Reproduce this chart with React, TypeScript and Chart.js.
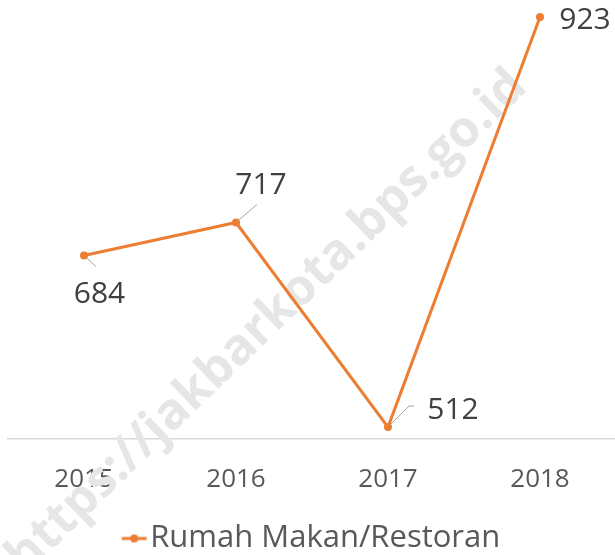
import React, { useEffect, useRef } from "react";
import { Chart, registerables } from "chart.js";

Chart.register(...registerables);

const categories = ["2015", "2016", "2017", "2018"];
const seriesName = "Rumah Makan/Restoran";
const seriesValues = [684, 717, 512, 923];
const watermarkText = "https://jakbarkota.bps.go.id";

const ORANGE = "#ED7D31";
const FONT = "'Open Sans', 'Noto Sans', sans-serif";

// label placement (style, relative to each point)
const labelOffsets = [
  [15.5, 36.5],
  [25, -39.5],
  [65, -19],
  [45, 1.5],
];
const leaderLines: number[][][] = [
  [[2, 2], [12, 11]],
  [[1, -1], [21, -18]],
  [[2, -2], [21, -21], [26, -21]],
  [],
];

function makeLegendMarker() {
  const c = document.createElement("canvas");
  c.width = 32;
  c.height = 10;
  const g = c.getContext("2d")!;
  g.strokeStyle = ORANGE;
  g.lineWidth = 3;
  g.beginPath();
  g.moveTo(6.5, 5);
  g.lineTo(31.5, 5);
  g.stroke();
  g.fillStyle = ORANGE;
  g.beginPath();
  g.arc(19, 5, 4, 0, Math.PI * 2);
  g.fill();
  return c;
}

const labelsPlugin = {
  id: "valueLabels",
  afterDatasetsDraw(chart: any) {
    const ctx = chart.ctx;
    const meta = chart.getDatasetMeta(0);
    const size = 30;
    ctx.save();
    meta.data.forEach((pt: any, i: number) => {
      const lines = leaderLines[i];
      if (lines.length) {
        ctx.strokeStyle = "#a6a6a6";
        ctx.lineWidth = 1;
        ctx.beginPath();
        lines.forEach((p, j) => {
          const x = pt.x + p[0];
          const y = pt.y + p[1];
          if (j === 0) ctx.moveTo(x, y);
          else ctx.lineTo(x, y);
        });
        ctx.stroke();
      }
      const [dx, dy] = labelOffsets[i];
      ctx.fillStyle = "#404040";
      ctx.font = `${size}px ${FONT}`;
      ctx.textAlign = "center";
      ctx.textBaseline = "alphabetic";
      ctx.fillText(String(seriesValues[i]), pt.x + dx, pt.y + dy + size * 0.357);
    });
    ctx.restore();
  },
};

const watermarkPlugin = {
  id: "watermark",
  beforeDatasetsDraw(chart: any) {
    const ctx = chart.ctx;
    ctx.save();
    ctx.translate(267, 322);
    ctx.rotate((-44 * Math.PI) / 180);
    ctx.font = `bold 50px ${FONT}`;
    ctx.fillStyle = "#e6e6e6";
    ctx.textAlign = "center";
    ctx.textBaseline = "middle";
    ctx.fillText(watermarkText, 0, 0);
    ctx.restore();
  },
};

export default function App() {
  const ref = useRef<HTMLCanvasElement>(null);
  useEffect(() => {
    const marker = makeLegendMarker();
    const chart = new Chart(ref.current!, {
      type: "line",
      data: {
        labels: categories,
        datasets: [
          {
            label: seriesName,
            data: seriesValues,
            borderColor: ORANGE,
            backgroundColor: ORANGE,
            borderWidth: 3,
            pointRadius: 4,
            pointStyle: "circle",
            pointBackgroundColor: ORANGE,
            pointBorderWidth: 0,
            tension: 0,
          },
        ],
      },
      options: {
        responsive: false,
        animation: false,
        layout: { padding: { left: 8, right: 0, top: 0, bottom: -9 } },
        scales: {
          x: {
            offset: true,
            grid: { display: false, drawTicks: false },
            border: { display: true, color: "#d9d9d9", width: 1.5 },
            ticks: {
              color: "#595959",
              font: { family: FONT, size: 26 },
              padding: 25,
              maxRotation: 0,
            },
            afterFit: (s: any) => {
              s.height = 84;
            },
          },
          y: { display: false, min: 500, max: 936 },
        },
        plugins: {
          legend: {
            position: "bottom",
            labels: {
              color: "#595959",
              font: { family: FONT, size: 31 },
              usePointStyle: true,
              pointStyleWidth: 7,
              boxHeight: 10,
              padding: 0,
              generateLabels: () => [
                {
                  text: seriesName,
                  pointStyle: marker as any,
                  fillStyle: ORANGE,
                  strokeStyle: ORANGE,
                  lineWidth: 0,
                  hidden: false,
                  datasetIndex: 0,
                  fontColor: "#595959",
                } as any,
              ],
            },
          },
          tooltip: { enabled: false },
        },
      },
      plugins: [watermarkPlugin, labelsPlugin],
    });
    return () => chart.destroy();
  }, []);
  return (
    <div
      style={{
        position: "absolute",
        left: 0,
        top: 0,
        width: 615,
        height: 555,
        overflow: "hidden",
        background: "#fff",
      }}
    >
      <canvas ref={ref} width={620} height={555} />
    </div>
  );
}
